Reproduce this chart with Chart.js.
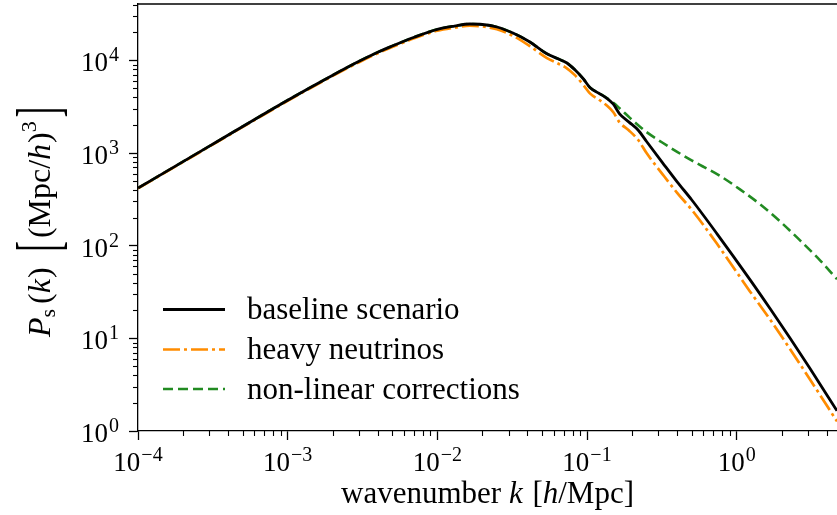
<!DOCTYPE html>
<html><head><meta charset="utf-8">
<script src="https://cdn.jsdelivr.net/npm/chart.js@4.4.1/dist/chart.umd.min.js"></script>
<style>html,body{margin:0;padding:0;background:#fff;} #wrap{width:837px;height:515px;position:relative;}</style>
</head><body><div id="wrap"><canvas id="c" width="837" height="515"></canvas></div>
<script>
// wavenumbers k [h/Mpc] for the linear spectra
const kLinear = [1e-4, 3e-4, 1e-3, 2e-3, 3e-3, 4.1e-3, 5e-3, 7e-3, 1e-2, 1.3e-2, 1.65e-2, 2e-2, 2.5e-2, 3.2e-2, 4.1e-2, 5.4e-2, 6.4e-2, 7.3e-2, 8.3e-2, 9.5e-2, 0.105, 0.12, 0.135, 0.15, 0.165, 0.19, 0.22, 0.25, 0.32, 0.4, 0.5, 0.735, 1.23, 1.67, 2.27, 3.09, 4.68];
// baseline scenario P(k)
const pBaseline = [418, 1186, 3715, 6918, 9772, 12470, 14290, 17780, 21630, 23440, 24660, 24380, 22910, 19720, 16000, 11780, 10400, 9420, 7910, 6250, 5060, 4410, 3920, 3360, 2650, 2170, 1760, 1330, 784, 489, 313, 136, 42.8, 21.0, 10.1, 4.73, 1.65];
// heavy neutrinos P(k)
const pHeavyNu = [415, 1175, 3656, 6790, 9550, 12160, 13900, 17300, 20890, 22540, 23660, 23230, 21630, 18410, 14450, 10590, 9230, 8260, 6920, 5370, 4370, 3760, 3270, 2750, 2140, 1760, 1380, 998, 589, 372, 245, 106, 31.9, 16.0, 7.68, 3.60, 1.27];
// non-linear corrections
const kNonlinear = [1e-4, 3e-4, 1e-3, 2e-3, 3e-3, 4.1e-3, 5e-3, 7e-3, 1e-2, 1.3e-2, 1.65e-2, 2e-2, 2.5e-2, 3.2e-2, 4.1e-2, 5.4e-2, 6.4e-2, 7.3e-2, 8.3e-2, 9.5e-2, 0.105, 0.12, 0.135, 0.15, 0.165, 0.19, 0.22, 0.25, 0.32, 0.4, 0.5, 0.568, 0.773, 1.052, 1.431, 1.947, 2.65, 3.605, 4.68];
const pNonlinear = [418, 1186, 3715, 6918, 9772, 12470, 14290, 17780, 21630, 23440, 24660, 24380, 22910, 19720, 16000, 11780, 10400, 9420, 7910, 6250, 5060, 4440, 3940, 3480, 3040, 2460, 1990, 1680, 1290, 1030, 834, 746, 567, 405, 280, 183, 114, 69.5, 43.5];

const seriesLabels = ['baseline scenario', 'heavy neutrinos', 'non-linear corrections'];
const xTickExponents = [-4, -3, -2, -1, 0];
const yTickExponents = [0, 1, 2, 3, 4];
const xRange = [1e-4, 4.68];
const yRange = [1, 40560];

const SERIF = "'Liberation Serif', 'DejaVu Serif', serif";
function isMajor(v){ const l = Math.log10(v); return Math.abs(l - Math.round(l)) < 1e-9; }
function logTicks(min, max){
  const out = [];
  for (let e = Math.floor(Math.log10(min)); e <= Math.ceil(Math.log10(max)); e++) {
    for (let m = 1; m <= 9; m++) {
      const v = m * Math.pow(10, e);
      if (v >= min * (1 - 1e-9) && v <= max * (1 + 1e-9)) out.push({value: v});
    }
  }
  return out;
}
function pairs(ks, ps){ return ks.map((k, i) => ({x: k, y: ps[i]})); }
function expText(e){ return (e < 0 ? '\u2212' : '') + Math.abs(e); }

function drawRich(ctx, segs, x, y, angle){
  ctx.save();
  ctx.translate(x, y);
  ctx.rotate(angle);
  ctx.textBaseline = 'alphabetic';
  ctx.textAlign = 'left';
  let total = 0;
  segs.forEach(s => { ctx.font = s.f; s.w = ctx.measureText(s.t).width * (s.sx || 1) + (s.dx || 0) + (s.after || 0); total += s.w; });
  let cx = -total / 2;
  segs.forEach(s => {
    ctx.font = s.f;
    ctx.fillStyle = '#000';
    const px = cx + (s.dx || 0);
    ctx.save();
    ctx.translate(px, s.dy || 0);
    ctx.scale(s.sx || 1, 1);
    ctx.fillText(s.t, 0, 0);
    ctx.restore();
    cx += s.w;
  });
  ctx.restore();
}

const BASE_F = '27px ' + SERIF, EXP_F = '20px ' + SERIF;
function powerLabel(ctx, e, x, baseline, align){
  ctx.font = BASE_F; const w1 = ctx.measureText('10').width;
  ctx.font = EXP_F; const w2 = ctx.measureText(expText(e)).width;
  const total = w1 + 1 + w2;
  const start = align === 'center' ? x - total / 2 : x - total;
  ctx.fillStyle = '#000'; ctx.textAlign = 'left'; ctx.textBaseline = 'alphabetic';
  ctx.font = BASE_F; ctx.fillText('10', start, baseline);
  ctx.font = EXP_F; ctx.fillText(expText(e), start + w1 + 1, baseline - 10);
}

const decorPlugin = {
  id: 'decor',
  afterDraw(chart){
    const ctx = chart.ctx, a = chart.chartArea;
    const xs = chart.scales.x, ys = chart.scales.y;
    ctx.save();
    // top spine
    ctx.strokeStyle = '#000'; ctx.lineWidth = 1.3;
    ctx.beginPath(); ctx.moveTo(a.left, a.top); ctx.lineTo(a.right, a.top); ctx.stroke();
    // minor ticks
    ctx.lineWidth = 1.1;
    xs.ticks.forEach(t => {
      if (isMajor(t.value)) return;
      const p = Math.round(xs.getPixelForValue(t.value)) + 0.5;
      ctx.beginPath(); ctx.moveTo(p, a.bottom); ctx.lineTo(p, a.bottom + 5); ctx.stroke();
    });
    ys.ticks.forEach(t => {
      if (isMajor(t.value)) return;
      const p = Math.round(ys.getPixelForValue(t.value)) + 0.5;
      ctx.beginPath(); ctx.moveTo(a.left, p); ctx.lineTo(a.left - 5, p); ctx.stroke();
    });
    // major tick labels 10^n
    xTickExponents.forEach(e => powerLabel(ctx, e, xs.getPixelForValue(Math.pow(10, e)), 471, 'center'));
    yTickExponents.forEach(e => powerLabel(ctx, e, 119, ys.getPixelForValue(Math.pow(10, e)) + 11, 'right'));
    ctx.restore();

    // axis titles
    const F = n => n + 'px ' + SERIF;
    const I = n => 'italic ' + n + 'px ' + SERIF;
    drawRich(ctx, [
      {t:'wavenumber ', f:F(31)}, {t:'k', f:I(31), after:2}, {t:' [', f:F(31)},
      {t:'h', f:I(31)}, {t:'/Mpc]', f:F(31)}
    ], (a.left + a.right) / 2, 503, 0);
    drawRich(ctx, [
      {t:'P', f:I(32)}, {t:'s', f:F(22), dy:5, after:3}, {t:'(', f:F(32), dx:2}, {t:'k', f:I(32), after:1}, {t:')', f:F(32), after:16},
      {t:'[', f:F(62), dy:9, sx:0.5, after:3}, {t:'(Mpc/', f:F(32)}, {t:'h', f:I(32), after:1}, {t:')', f:F(32)},
      {t:'3', f:F(22), dy:-14, after:4}, {t:']', f:F(62), dy:9, sx:0.5}
    ], 50, 222, -Math.PI / 2);

    // legend
    const rows = [309.5, 349.5, 389];
    chart.data.datasets.forEach((ds, i) => {
      const y = rows[i];
      ctx.save();
      ctx.strokeStyle = ds.borderColor; ctx.lineWidth = ds.borderWidth;
      ctx.setLineDash(ds.borderDash || []);
      ctx.beginPath(); ctx.moveTo(163, y); ctx.lineTo(225, y); ctx.stroke();
      ctx.restore();
      ctx.save();
      ctx.font = '31px ' + SERIF; ctx.fillStyle = '#000'; ctx.textBaseline = 'alphabetic';
      ctx.fillText(ds.label, 247, y + 9.5);
      ctx.restore();
    });
  }
};

const gridOpts = {display: true, drawOnChartArea: false, drawTicks: true, tickLength: 9, tickWidth: 1.3,
  tickColor: c => (c.tick && isMajor(c.tick.value)) ? '#000' : 'rgba(0,0,0,0)'};
new Chart(document.getElementById('c'), {
  type: 'line',
  data: {
    datasets: [
      {label: seriesLabels[0], data: pairs(kLinear, pBaseline), borderColor: '#000000', borderWidth: 2.8, pointRadius: 0, cubicInterpolationMode: 'monotone', fill: false},
      {label: seriesLabels[1], data: pairs(kLinear, pHeavyNu), borderColor: '#ff8c00', borderWidth: 2.7, borderDash: [17, 4, 3, 4], pointRadius: 0, cubicInterpolationMode: 'monotone', fill: false},
      {label: seriesLabels[2], data: pairs(kNonlinear, pNonlinear), borderColor: '#228b22', borderWidth: 2.6, borderDash: [10, 5], pointRadius: 0, cubicInterpolationMode: 'monotone', fill: false}
    ]
  },
  options: {
    responsive: false, animation: false, devicePixelRatio: 1,
    layout: {padding: {top: 4, left: 0, right: 0, bottom: 0}},
    plugins: {legend: {display: false}, tooltip: {enabled: false}},
    scales: {
      x: {
        type: 'logarithmic', min: xRange[0], max: xRange[1],
        afterBuildTicks: s => { s.ticks = logTicks(xRange[0], xRange[1]); },
        afterFit: s => { s.height = 84; s.paddingLeft = 0; s.paddingRight = 0; },
        ticks: {display: false, autoSkip: false},
        grid: gridOpts,
        border: {display: true, color: '#000', width: 1.3}
      },
      y: {
        type: 'logarithmic', min: yRange[0], max: yRange[1],
        afterBuildTicks: s => { s.ticks = logTicks(yRange[0], yRange[1]); },
        afterFit: s => { s.width = 138; s.paddingTop = 0; s.paddingBottom = 0; },
        ticks: {display: false, autoSkip: false},
        grid: gridOpts,
        border: {display: true, color: '#000', width: 1.3}
      }
    }
  },
  plugins: [decorPlugin]
});
</script>
</body></html>
